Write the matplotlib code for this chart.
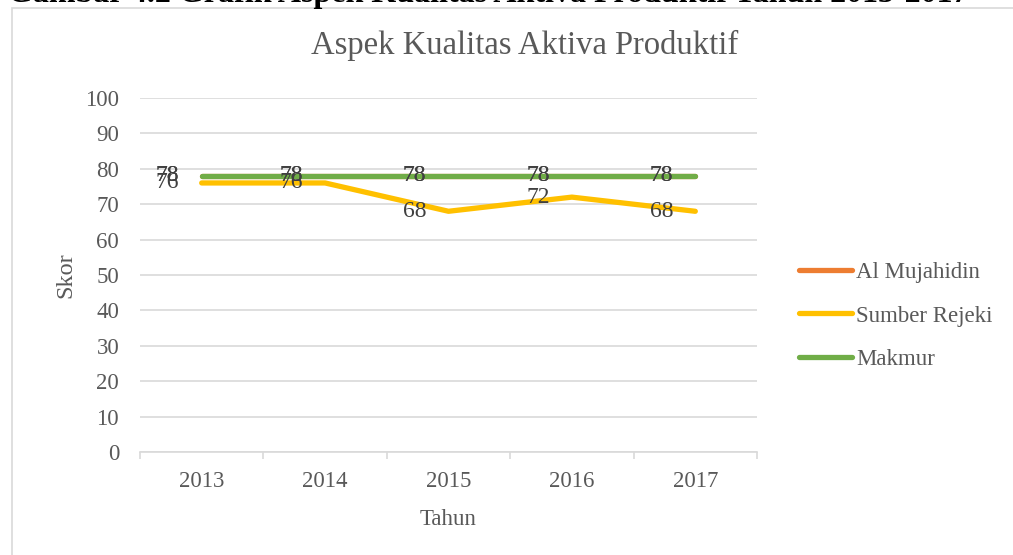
import numpy as np
import matplotlib.pyplot as plt
from matplotlib.patches import Rectangle

# data
years = ["2013", "2014", "2015", "2016", "2017"]
al_mujahidin = [78, 78, 78, 78, 78]
sumber_rejeki = [76, 76, 68, 72, 68]
makmur = [78, 78, 78, 78, 78]
y_ticks = [0, 10, 20, 30, 40, 50, 60, 70, 80, 90, 100]

series = [
    ("Al Mujahidin", al_mujahidin, "#ED7D31"),
    ("Sumber Rejeki", sumber_rejeki, "#FFC000"),
    ("Makmur", makmur, "#70AD47"),
]

plt.rcParams['font.family'] = ['Liberation Serif', 'DejaVu Serif']
txt = "#595959"
fs = 16.5

W, H = 1013, 555
fig = plt.figure(figsize=(W / 100, H / 100), dpi=100)

# chart frame (only top/left edges visible in the crop)
fig.patches.append(Rectangle((12 / W, -0.1), 1.2, 1 - 8 / H + 0.1,
                             transform=fig.transFigure, fill=False,
                             edgecolor="#D9D9D9", linewidth=1.2))

# cut-off caption at the very top
fig.text(8 / W, 1 - 2 / H, "Gambar 4.2 Grafik Aspek Kualitas Aktiva Produktif Tahun 2013-2017",
         ha="left", va="baseline", fontsize=23, fontweight="bold", color="black")

ax = fig.add_axes([140 / W, 1 - 452 / H, (757 - 140) / W, (452 - 98) / H])
x = np.arange(len(years))

for name, vals, col in series:
    ax.plot(x, vals, color=col, linewidth=3.8, label=name,
            solid_capstyle="round", solid_joinstyle="round")

# data labels, placed left of each point
for name, vals, col in series:
    for xi, v in zip(x, vals):
        ax.annotate(str(v), (xi, v), xytext=(-34, 0), textcoords="offset pixels",
                    ha="center", va="center", fontsize=17, color="#404040")

ax.set_xlim(-0.5, len(years) - 0.5)
ax.set_ylim(0, 100)
ax.set_yticks(y_ticks)
ax.set_xticks(x)
ax.set_xticklabels(years)
ax.set_xticks(np.arange(-0.5, len(years)), minor=True)
ax.tick_params(axis="x", which="major", length=0, pad=14, labelsize=fs, labelcolor=txt)
ax.tick_params(axis="x", which="minor", length=5, color="#D9D9D9", width=1.2)
ax.tick_params(axis="y", length=0, pad=15, labelsize=fs, labelcolor=txt)
ax.grid(axis="y", color="#D9D9D9", linewidth=1.2)
ax.set_axisbelow(True)
for s in ["top", "right", "left"]:
    ax.spines[s].set_visible(False)
ax.spines["bottom"].set_color("#D9D9D9")
ax.spines["bottom"].set_linewidth(1.2)

ax.set_xlabel("Tahun", fontsize=fs, color=txt, labelpad=12)
ax.set_ylabel("Skor", fontsize=17.5, color=txt, labelpad=6)

fig.text(525 / W, 1 - 45 / H, "Aspek Kualitas Aktiva Produktif", ha="center", va="center",
         fontsize=23.5, color=txt)

ax.legend(loc="center left", bbox_to_anchor=(778 / W, 1 - 316 / H),
          bbox_transform=fig.transFigure, frameon=False, fontsize=fs,
          handlelength=2.35, handletextpad=0.15, labelspacing=1.0, labelcolor=txt)

fig.savefig("out.png", dpi=100)
